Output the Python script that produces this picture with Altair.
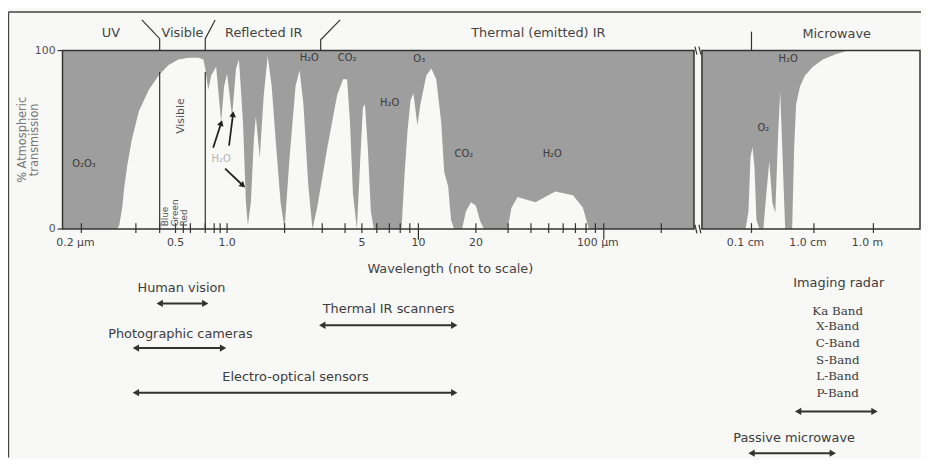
import altair as alt
import pandas as pd

FONT = "DejaVu Sans"
INK = "#333333"
GRAY = "#9e9e9e"

# ---------------- data ----------------
# optical / IR transmission curve (wavelength in micrometres, % transmission)
opt_wl = [0.17, 0.228, 0.261, 0.265, 0.271, 0.275, 0.281, 0.291, 0.311, 0.351,
          0.395, 0.453, 0.518, 0.585, 0.652, 0.686, 0.70, 0.732, 0.765, 0.832,
          0.914, 0.956, 1.00, 1.062, 1.114, 1.154, 1.211, 1.255, 1.285, 1.332,
          1.381, 1.414, 1.483, 1.556, 1.632, 1.712, 1.796, 1.906, 2.00, 2.11,
          2.25, 2.35, 2.45, 2.58, 2.70, 2.84, 3.19, 3.62, 3.90, 4.11,
          4.27, 4.44, 4.68, 4.87, 5.06, 5.19, 5.38, 5.58, 5.79, 8.13,
          8.43, 8.75, 9.08, 9.41, 9.88, 10.24, 11.0, 11.68, 12.4, 13.16,
          13.65, 14.31, 14.83, 15.38, 16.92, 17.75, 18.84, 20.0, 21.0, 22.1,
          29.8, 31.3, 33.8, 42.3, 54.3, 67.9, 76.9, 82.9, 300]
opt_T = [0, 0, 0, 2, 12, 23, 35, 50, 66, 78,
         86, 92, 95, 96, 96, 95, 90, 78, 86, 91,
         60, 80, 87, 63, 90, 95, 60, 15, 2, 15,
         50, 63, 40, 75, 97, 80, 50, 15, 0, 40,
         80, 89, 70, 25, 0, 12, 45, 75, 84, 84,
         60, 20, 0, 35, 68, 70, 45, 10, 0, 0,
         30, 55, 72, 76, 58, 70, 86, 90, 84, 60,
         32, 24, 5, 0, 0, 10, 15, 13, 5, 0,
         0, 12, 18, 15, 21, 19, 12, 0, 0]

# microwave transmission curve (wavelength in micrometres)
mw_wl = [500, 920, 959, 986, 1037, 1116, 1200, 1340, 1551, 1730,
         1931, 2154, 2404, 2683, 2886, 3221, 3465, 4475, 4814, 5179,
         5995, 7195, 9641, 19950, 54120, 135900, 3e7]
mw_T = [0, 0, 10, 40, 46, 35, 5, 0, 0, 20,
        38, 15, 9, 55, 77, 30, 0, 0, 45, 70,
        80, 86, 91, 95, 98, 100, 100]

# panels (wavelength extents)
panel_start = [0.17, 500]
panel_end = [300, 3e7]

# y axis
y_tick_T = [0, 100]
y_tick_txt = ["0", "100"]
y_title = "% Atmospheric\ntransmission"

# x-axis ticks and labels
tick_wl = [0.2, 0.3, 0.4, 0.5, 0.55, 0.6, 0.7, 0.8, 0.9, 1.0, 2, 3, 4, 5, 6, 7, 8, 9,
           10, 20, 30, 40, 50, 60, 70, 80, 90, 100, 200, 1000, 1e4, 1e6]
major_tick_wl = [10, 100]
label_wl = [0.2, 0.5, 1.0, 5, 10, 20, 100, 1000, 1e4, 1e6]
label_txt = ["0.2 µm", "0.5", "1.0", "5", "10", "20", "100 µm", "0.1 cm", "1.0 cm", "1.0 m"]
label_unit = [True, False, False, False, False, False, True, True, True, True]

# spectral region names above the plot
region_txt = ["UV", "Visible", "Reflected IR", "Thermal (emitted) IR", "Microwave"]
region_wl = [0.249, 0.544, 1.556, 43.9, 58400]
region_T = [110, 110, 110, 110, 109.5]

# region dividers (polylines)
div_id = ["a", "a", "a", "b", "b", "b", "c", "c", "c", "d", "d"]
div_wl = [0.3225, 0.4, 0.4, 0.815, 0.7, 0.7, 3.76, 2.95, 2.95, 1000, 1000]
div_T = [117.2, 106.7, 100, 117.2, 106.7, 100, 117.2, 106.1, 100, 110.6, 100]

# absorber labels
gas_txt = ["O₂O₃", "H₂O", "CO₂", "O₃", "H₂O", "CO₂", "H₂O", "H₂O", "O₂"]
gas_wl = [0.204, 2.61, 4.11, 10.1, 7.03, 17.3, 52.3, 3870, 1550]
gas_T = [36.7, 96.1, 95.6, 95.0, 70.6, 42.2, 42.2, 95.5, 56.7]

# visible band
vis_line_wl = [0.4, 0.7]
vis_line_top = 88
color_txt = ["Blue", "Green", "Red"]
color_wl = [0.429, 0.493, 0.557]

# small arrows pointing to H2O bands
h2o_arrow_x0 = [0.788, 1.024, 0.971]
h2o_arrow_y0 = [45.6, 46.7, 33.9]
h2o_arrow_x1 = [0.914, 1.074, 1.211]
h2o_arrow_y1 = [59.4, 64.4, 24.4]
h2o_arrow_dir = [18, 7, 133]

# sensor annotations
sensor_txt = ["Human vision", "Thermal IR scanners", "Photographic cameras",
              "Electro-optical sensors", "Imaging radar", "Passive microwave"]
sensor_wl = [0.538, 6.94, 0.531, 2.25, 68100, 4820]
sensor_T = [-32.8, -45, -58.9, -82.8, -30, -117.2]
range_from = [0.4, 3.0, 0.3, 0.3, 5570, 1000]
range_to = [0.7, 15.4, 0.941, 15.4, 1.08e6, 43000]
range_T = [-41.7, -53.9, -66.7, -91.7, -102.2, -125.6]
band_txt = ["Ka Band", "X-Band", "C-Band", "S-Band", "L-Band", "P-Band"]
band_T = [-46.1, -54.4, -63.9, -73.3, -82.2, -91.7]
band_wl = 63100

# ---------------- scales (not-to-scale wavelength axis) ----------------
axis_wl = [0.17, 0.2, 0.3, 0.4, 0.5, 0.6, 0.7, 0.8, 0.9, 1.0, 2, 3, 4, 5, 10, 20,
           100, 200, 300, 500, 1000, 1e4, 1e6, 3e7]
axis_px = [0, 19, 74, 98, 114, 129, 144, 153, 159, 166, 224, 262, 285, 302, 359, 417,
           546, 604, 637, 645, 695, 758, 818, 865]

XS = alt.Scale(type="log", domain=axis_wl, range=axis_px, nice=False)
YS = alt.Scale(domain=[0, 100], nice=False, zero=False)


def xq(f):
    return alt.X(f"{f}:Q", scale=XS, axis=None)


def yq(f):
    return alt.Y(f"{f}:Q", scale=YS, axis=None)


# ---------------- layers ----------------
curve_df = pd.DataFrame({
    "lam": opt_wl + mw_wl,
    "T": opt_T + mw_T,
    "top": [100] * (len(opt_wl) + len(mw_wl)),
    "panel": ["opt"] * len(opt_wl) + ["mw"] * len(mw_wl),
})

area = alt.Chart(curve_df).mark_area(color=GRAY, interpolate="linear").encode(
    x=xq("lam"), y=yq("T"), y2="top", detail="panel:N",
)

panel_df = pd.DataFrame({"l0": panel_start, "l1": panel_end, "b": [0, 0], "t": [100, 100]})
frames = alt.Chart(panel_df).mark_rect(fillOpacity=0, stroke=INK, strokeWidth=1.5).encode(
    x=xq("l0"), x2="l1", y=yq("b"), y2="t"
)

# outer figure frame
outer_df = pd.DataFrame({"x0": [0.1066, 0.1066], "x1": [0.1066, 4e7],
                         "y0": [121.7, 121.7], "y1": [-128, 121.7]})
outer = alt.Chart(outer_df).mark_rule(color="#444444", strokeWidth=1.5).encode(
    x=xq("x0"), x2="x1", y=yq("y0"), y2="y1"
)

# y axis: ticks, labels, title
yt_df = pd.DataFrame({"a": [0.1629] * 2, "b": [0.17] * 2, "T": y_tick_T, "txt": y_tick_txt,
                      "lx": [0.1601] * 2})
y_ticks = alt.Chart(yt_df).mark_rule(color=INK, strokeWidth=1.2).encode(
    x=xq("a"), x2="b", y=yq("T")
)
y_labels = alt.Chart(yt_df).mark_text(font=FONT, fontSize=11, color="#555555",
                                      align="right", baseline="middle").encode(
    x=xq("lx"), y=yq("T"), text="txt:N"
)
y_ttl = alt.Chart(pd.DataFrame({"lam": [0.1207], "T": [50], "txt": [y_title]})).mark_text(
    font=FONT, fontSize=11.5, color="#777777", angle=270, align="center", baseline="middle",
    lineBreak="\n", lineHeight=12.5
).encode(x=xq("lam"), y=yq("T"), text="txt:N")

# axis-break marks between panels
brk_df = pd.DataFrame({"x0": [319, 413, 319, 413], "x1": [363, 469, 363, 469],
                       "y0": [102.2, 102.2, 2.4, 2.4], "y1": [97.8, 97.8, -2.4, -2.4]})
breaks = alt.Chart(brk_df).mark_rule(color=INK, strokeWidth=1.2).encode(
    x=xq("x0"), x2="x1", y=yq("y0"), y2="y1"
)

div_df = pd.DataFrame({"id": div_id, "lam": div_wl, "T": div_T, "o": list(range(len(div_id)))})
dividers = alt.Chart(div_df).mark_line(color=INK, strokeWidth=1.2).encode(
    x=xq("lam"), y=yq("T"), detail="id:N", order="o:Q"
)

vis_df = pd.DataFrame({"lam": vis_line_wl, "top": [vis_line_top] * 2, "bot": [0, 0]})
vis_lines = alt.Chart(vis_df).mark_rule(color=INK, strokeWidth=1.2).encode(
    x=xq("lam"), y=yq("bot"), y2="top"
)

tick_df = pd.DataFrame({"lam": tick_wl,
                        "lo": [-6 if t in major_tick_wl else -2.2 for t in tick_wl],
                        "hi": [3.3] * len(tick_wl)})
ticks = alt.Chart(tick_df).mark_rule(color=INK, strokeWidth=1.2).encode(
    x=xq("lam"), y=yq("lo"), y2="hi"
)

lab_df = pd.DataFrame({"lam": label_wl, "txt": label_txt, "unit": label_unit, "T": [-7.8] * len(label_wl)})
tick_labels_unit = alt.Chart(lab_df[lab_df.unit]).mark_text(
    font=FONT, fontSize=11, color="#444444", dx=-6, baseline="middle"
).encode(x=xq("lam"), y=yq("T"), text="txt:N")
tick_labels_plain = alt.Chart(lab_df[~lab_df.unit]).mark_text(
    font=FONT, fontSize=11, color="#444444", baseline="middle"
).encode(x=xq("lam"), y=yq("T"), text="txt:N")

xtitle = alt.Chart(pd.DataFrame({"lam": [14.7], "T": [-22.2], "txt": ["Wavelength (not to scale)"]})).mark_text(
    font=FONT, fontSize=13, color="#444444", baseline="middle"
).encode(x=xq("lam"), y=yq("T"), text="txt:N")

region_df = pd.DataFrame({"lam": region_wl, "T": region_T, "txt": region_txt})
regions = alt.Chart(region_df).mark_text(font=FONT, fontSize=13, color="#444444", baseline="middle").encode(
    x=xq("lam"), y=yq("T"), text="txt:N"
)

gas_df = pd.DataFrame({"lam": gas_wl, "T": gas_T, "txt": gas_txt})
gases = alt.Chart(gas_df).mark_text(font=FONT, fontSize=10, color="#3a3a3a", baseline="middle").encode(
    x=xq("lam"), y=yq("T"), text="txt:N"
)

vis_word = alt.Chart(pd.DataFrame({"lam": [0.538], "T": [63.3], "txt": ["Visible"]})).mark_text(
    font=FONT, fontSize=11, color="#555555", angle=270, baseline="middle"
).encode(x=xq("lam"), y=yq("T"), text="txt:N")

col_df = pd.DataFrame({"lam": color_wl, "T": [1.5] * 3, "txt": color_txt})
colors = alt.Chart(col_df).mark_text(
    font=FONT, fontSize=9, color="#555555", angle=270, align="left", baseline="middle"
).encode(x=xq("lam"), y=yq("T"), text="txt:N")

h2o_lbl = alt.Chart(pd.DataFrame({"lam": [0.914], "T": [39.4], "txt": ["H₂O"]})).mark_text(
    font=FONT, fontSize=10, color="#b5b5b5", baseline="middle"
).encode(x=xq("lam"), y=yq("T"), text="txt:N")

ha_df = pd.DataFrame({"x0": h2o_arrow_x0, "y0": h2o_arrow_y0, "x1": h2o_arrow_x1,
                      "y1": h2o_arrow_y1, "ang": h2o_arrow_dir})
h2o_lines = alt.Chart(ha_df).mark_rule(color="#222222", strokeWidth=1.8).encode(
    x=xq("x0"), x2="x1", y=yq("y0"), y2="y1"
)
h2o_heads = alt.Chart(ha_df).mark_point(shape="triangle-up", filled=True, size=45,
                                        color="#222222", opacity=1).encode(
    x=xq("x1"), y=yq("y1"), angle=alt.Angle("ang:Q", scale=None)
)

sens_df = pd.DataFrame({"lam": sensor_wl, "T": sensor_T, "txt": sensor_txt})
sensors = alt.Chart(sens_df).mark_text(font=FONT, fontSize=13, color="#3c3c3c", baseline="middle").encode(
    x=xq("lam"), y=yq("T"), text="txt:N"
)

band_df = pd.DataFrame({"lam": [band_wl] * len(band_txt), "T": band_T, "txt": band_txt})
bands = alt.Chart(band_df).mark_text(font="DejaVu Serif", fontSize=12, color="#3c3c3c", baseline="middle").encode(
    x=xq("lam"), y=yq("T"), text="txt:N"
)

rng_df = pd.DataFrame({"a": range_from, "b": range_to, "T": range_T})
rng_lines = alt.Chart(rng_df).mark_rule(color="#333333", strokeWidth=2).encode(
    x=xq("a"), x2="b", y=yq("T")
)
rng_left = alt.Chart(rng_df).mark_point(shape="triangle-left", filled=True, size=55,
                                        color="#333333", opacity=1).encode(x=xq("a"), y=yq("T"))
rng_right = alt.Chart(rng_df).mark_point(shape="triangle-right", filled=True, size=55,
                                         color="#333333", opacity=1).encode(x=xq("b"), y=yq("T"))

chart = alt.layer(
    area, frames, outer, y_ticks, y_labels, y_ttl, breaks, dividers, vis_lines, ticks,
    tick_labels_unit, tick_labels_plain, xtitle, regions, gases, vis_word, colors,
    h2o_lbl, h2o_lines, h2o_heads, sensors, bands, rng_lines, rng_left, rng_right,
).properties(
    width=865, height=180,
    padding={"left": 55, "top": 41, "right": 1, "bottom": 230},
    autosize=alt.AutoSizeParams(type="none"),
    background="#f8f8f6",
).configure_view(stroke=None)

chart.save("out.html", embed_options={"renderer": "svg", "actions": False})
